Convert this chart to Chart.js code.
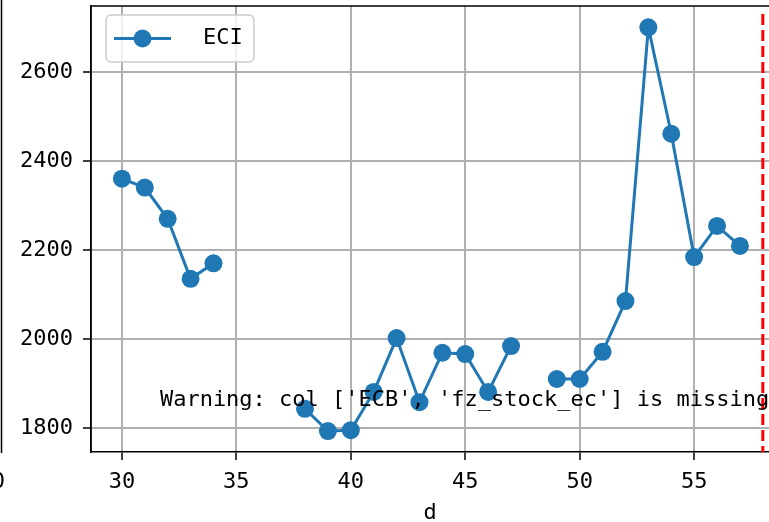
<!DOCTYPE html>
<html>
<head>
<meta charset="utf-8">
<script src="https://cdn.jsdelivr.net/npm/chart.js@4.4.1/dist/chart.umd.min.js"></script>
<style>
  html, body { margin: 0; padding: 0; background: #fff; overflow: hidden; }
  #wrap { width: 769px; height: 522px; position: relative; }
</style>
</head>
<body>
<div id="wrap"><canvas id="chart" width="769" height="522"></canvas></div>
<script>
const days = [30, 31, 32, 33, 34, 35, 36, 37, 38, 39, 40, 41, 42, 43, 44, 45, 46, 47, 48, 49, 50, 51, 52, 53, 54, 55, 56, 57];
const eciValues = [2360, 2340, 2270, 2135, 2170, null, null, null, 1843, 1793, 1795, 1881, 2002, 1858, 1969, 1966, 1881, 1984, null, 1910, 1910, 1971, 2085, 2700, 2461, 2184, 2254, 2209];
const xTicks = [30, 35, 40, 45, 50, 55];
const yTicks = [1800, 2000, 2200, 2400, 2600];
const seriesLabel = "ECI";
const cutoffDay = 58;
const warningText = "Warning: col ['ECB', 'fz_stock_ec'] is missing";
const warningAt = { x: 31.66, y: 1862 };

const BLUE = "#1f77b4";
const MONO = "'DejaVu Sans Mono', 'Liberation Mono', monospace";

// spines, red cutoff line, warning text, legend, and the cut-off neighbour axis on the left
const extras = {
  id: "extras",
  beforeDatasetsDraw(chart) {
    const { ctx, chartArea: a } = chart;
    ctx.save();
    ctx.strokeStyle = "#000";
    ctx.lineWidth = 1.5;
    ctx.beginPath();
    ctx.moveTo(a.left, a.bottom);
    ctx.lineTo(a.left, a.top);
    ctx.lineTo(a.right + 5, a.top);
    ctx.stroke();
    // leftover spine of the neighbouring subplot
    ctx.beginPath();
    ctx.moveTo(1.5, 0);
    ctx.lineTo(1.5, 453);
    ctx.stroke();
    ctx.fillStyle = "#000";
    ctx.font = "22px " + MONO;
    ctx.textAlign = "right";
    ctx.textBaseline = "middle";
    ctx.fillText("0", 5, 482);
    ctx.restore();
  },
  afterDatasetsDraw(chart) {
    const { ctx, chartArea: a, scales } = chart;
    const x = scales.x.getPixelForValue(cutoffDay);
    ctx.save();
    ctx.strokeStyle = "#ff0000";
    ctx.lineWidth = 3;
    ctx.setLineDash([11, 5]);
    ctx.beginPath();
    ctx.moveTo(x, a.top + 8);
    ctx.lineTo(x, a.bottom);
    ctx.stroke();
    ctx.setLineDash([]);

    ctx.fillStyle = "#000";
    ctx.font = "22px " + MONO;
    ctx.textAlign = "left";
    ctx.textBaseline = "middle";
    ctx.fillText(warningText, scales.x.getPixelForValue(warningAt.x), scales.y.getPixelForValue(warningAt.y));

    // legend box
    const bx = 106, by = 15, bw = 148, bh = 47, r = 5;
    ctx.fillStyle = "rgba(255,255,255,0.8)";
    ctx.strokeStyle = "#cccccc";
    ctx.lineWidth = 1.5;
    ctx.beginPath();
    ctx.roundRect(bx, by, bw, bh, r);
    ctx.fill();
    ctx.stroke();
    const ly = by + bh / 2;
    ctx.strokeStyle = BLUE;
    ctx.lineWidth = 3;
    ctx.beginPath();
    ctx.moveTo(114, ly);
    ctx.lineTo(171, ly);
    ctx.stroke();
    ctx.fillStyle = BLUE;
    ctx.beginPath();
    ctx.arc(142.5, ly, 9, 0, Math.PI * 2);
    ctx.fill();
    ctx.fillStyle = "#000";
    ctx.font = "22px " + MONO;
    ctx.textAlign = "left";
    ctx.fillText(chart.data.datasets[0].label, 203, ly);
    ctx.restore();
  }
};

new Chart(document.getElementById("chart"), {
  type: "line",
  data: {
    datasets: [{
      label: seriesLabel,
      data: days.map((d, i) => ({ x: d, y: eciValues[i] })),
      borderColor: BLUE,
      backgroundColor: BLUE,
      borderWidth: 3,
      pointRadius: 9,
      pointBorderWidth: 0,
      pointBackgroundColor: BLUE,
      spanGaps: false,
      tension: 0
    }]
  },
  options: {
    responsive: false,
    animation: false,
    layout: { autoPadding: false, padding: { left: 0, right: 0, top: 6, bottom: 0 } },
    plugins: { legend: { display: false }, tooltip: { enabled: false } },
    scales: {
      x: {
        type: "linear",
        min: 28.65,
        max: 58.27,
        afterBuildTicks: (s) => { s.ticks = xTicks.map((v) => ({ value: v })); },
        afterFit: (s) => { s.height = 70; s.paddingLeft = 0; s.paddingRight = 0; },
        grid: { color: "#b0b0b0", lineWidth: 2, tickColor: "#000", tickLength: 8, tickWidth: 1.5 },
        border: { color: "#000", width: 1.5 },
        ticks: { color: "#000", font: { family: MONO, size: 22 }, padding: 9, maxRotation: 0, callback: (v) => String(v) },
        title: { display: true, text: "d", color: "#000", font: { family: MONO, size: 22 }, padding: { top: 0, bottom: -4 } }
      },
      y: {
        min: 1746,
        max: 2748,
        afterBuildTicks: (s) => { s.ticks = yTicks.map((v) => ({ value: v })); },
        afterFit: (s) => { s.width = 91; s.paddingTop = 0; s.paddingBottom = 0; },
        grid: { color: "#b0b0b0", lineWidth: 2, tickColor: "#000", tickLength: 8, tickWidth: 1.5 },
        border: { color: "#000", width: 1.5 },
        ticks: { color: "#000", font: { family: MONO, size: 22 }, padding: 10, callback: (v) => String(v) }
      }
    }
  },
  plugins: [extras]
});
</script>
</body>
</html>
